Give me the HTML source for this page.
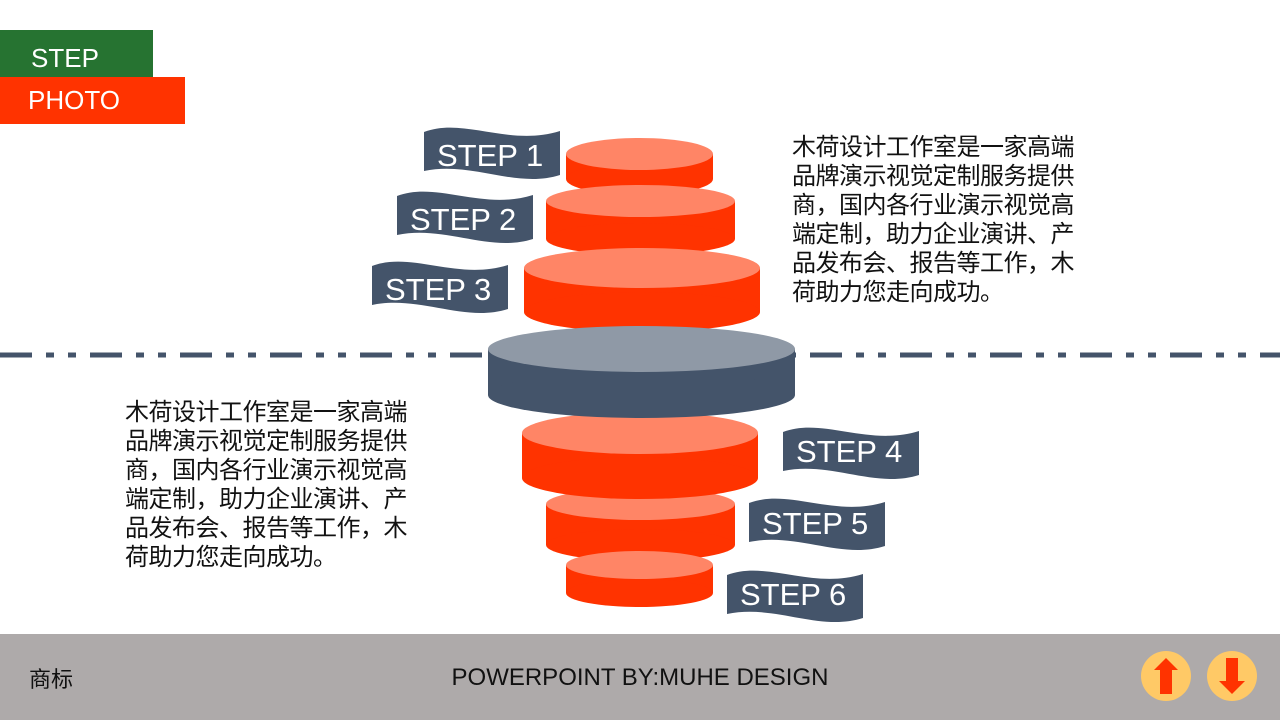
<!DOCTYPE html>
<html><head><meta charset="utf-8"><style>
body{margin:0;width:1280px;height:720px;position:relative;overflow:hidden;background:#fff;font-family:"Liberation Sans","Noto Sans CJK SC",sans-serif}
.t{position:absolute;font-size:24px;line-height:29px;color:#111;width:290px;letter-spacing:-0.5px}
</style></head><body>
<div style="position:absolute;left:0;top:30px;width:153px;height:47px;background:#267331;color:#fff;font-size:26px;line-height:56px;padding-left:31px;box-sizing:border-box">STEP</div>
<div style="position:absolute;left:0;top:77px;width:185px;height:47px;background:#ff3300;color:#fff;font-size:26px;line-height:46px;padding-left:28px;box-sizing:border-box">PHOTO</div>
<svg width="1280" height="720" style="position:absolute;left:0;top:0">
<line x1="0" y1="355" x2="1280" y2="355" stroke="#44546a" stroke-width="5" stroke-dasharray="32 14 8 14 8 14"/>
<defs>
<path id="fl" d="M0,7 C40,-8 85,22 136,6 L136,50 C92,64 48,36 0,46 Z" fill="#44546a"/>
</defs>
<g font-family="Liberation Sans, sans-serif" font-size="31" fill="#fff">
<use href="#fl" x="424" y="125"/><text x="437" y="166">STEP 1</text>
<use href="#fl" x="397" y="189"/><text x="410" y="230">STEP 2</text>
<use href="#fl" x="372" y="259"/><text x="385" y="300">STEP 3</text>
<use href="#fl" x="783" y="425"/><text x="796" y="462">STEP 4</text>
<use href="#fl" x="749" y="496"/><text x="762" y="534">STEP 5</text>
<use href="#fl" x="727" y="568"/><text x="740" y="605">STEP 6</text>
</g>
<g>
<rect x="566" y="154" width="147" height="25" fill="#ff3300"/><ellipse cx="639.5" cy="179" rx="73.5" ry="16" fill="#ff3300"/><ellipse cx="639.5" cy="154" rx="73.5" ry="16" fill="#ff8566"/>
<rect x="546" y="201" width="189" height="38" fill="#ff3300"/><ellipse cx="640.5" cy="239" rx="94.5" ry="16" fill="#ff3300"/><ellipse cx="640.5" cy="201" rx="94.5" ry="16" fill="#ff8566"/>
<rect x="524" y="268" width="236" height="44" fill="#ff3300"/><ellipse cx="642" cy="312" rx="118" ry="20" fill="#ff3300"/><ellipse cx="642" cy="268" rx="118" ry="20" fill="#ff8566"/>
<rect x="546" y="504" width="189" height="41" fill="#ff3300"/><ellipse cx="640.5" cy="545" rx="94.5" ry="16" fill="#ff3300"/><ellipse cx="640.5" cy="504" rx="94.5" ry="16" fill="#ff8566"/>
<rect x="566" y="565" width="147" height="28" fill="#ff3300"/><ellipse cx="639.5" cy="593" rx="73.5" ry="14" fill="#ff3300"/><ellipse cx="639.5" cy="565" rx="73.5" ry="14" fill="#ff8566"/>
<rect x="522" y="433" width="236" height="45" fill="#ff3300"/><ellipse cx="640" cy="478" rx="118" ry="21" fill="#ff3300"/><ellipse cx="640" cy="433" rx="118" ry="21" fill="#ff8566"/>
<rect x="488" y="349" width="307" height="46" fill="#44546a"/><ellipse cx="641.5" cy="395" rx="153.5" ry="23" fill="#44546a"/><ellipse cx="641.5" cy="349" rx="153.5" ry="23" fill="#8f99a6"/>
</g>
</svg>
<div class="t" style="left:792px;top:133px">木荷设计工作室是一家高端品牌演示视觉定制服务提供商，国内各行业演示视觉高端定制，助力企业演讲、产品发布会、报告等工作，木荷助力您走向成功。</div>
<div class="t" style="left:125px;top:398px">木荷设计工作室是一家高端品牌演示视觉定制服务提供商，国内各行业演示视觉高端定制，助力企业演讲、产品发布会、报告等工作，木荷助力您走向成功。</div>
<div style="position:absolute;left:0;top:634px;width:1280px;height:86px;background:#aeaaaa"></div>
<div style="position:absolute;left:29px;top:662px;font-size:22px;color:#111">商标</div>
<div style="position:absolute;left:0;width:1280px;text-align:center;top:664px;font-size:24px;color:#111">POWERPOINT BY:MUHE DESIGN</div>
<svg width="1280" height="720" style="position:absolute;left:0;top:0">
<circle cx="1166" cy="676" r="25" fill="#ffc966"/>
<polygon points="1166,658 1178,670 1172,670 1172,694 1160,694 1160,670 1154,670" fill="#ff3300"/>
<circle cx="1232" cy="676" r="25" fill="#ffc966"/>
<polygon points="1232,694 1245,681 1238,681 1238,658 1226,658 1226,681 1219,681" fill="#ff3300"/>
</svg>
</body></html>
